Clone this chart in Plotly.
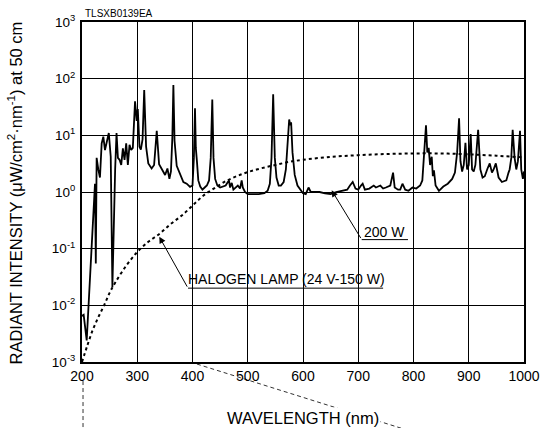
import plotly.graph_objects as go

# ---- data ----
hgxe_wl = [200, 203, 208.5, 223.5, 225, 226.5, 229.5, 232.5, 235.6, 238.6, 241.6, 244.6, 248.5, 252, 255, 260, 262.5,
           265, 268, 271, 274, 277, 280, 283, 286, 289, 292, 296, 299, 301, 304, 306.5, 309.6, 312.6, 316, 320, 326,
           330.5, 335.3, 339.5, 344.3, 350.4, 354.6, 358.2, 361, 363.5, 365.4, 367.5, 371.4, 377.5, 383.5, 389.5, 395.5,
           400, 402.5, 404.5, 406, 408, 410.5, 414, 418, 422, 426, 430, 433, 435.8, 438, 441, 445, 450, 455, 460, 464,
           466, 468, 471, 474, 478, 482, 486, 489, 491, 495, 500, 510, 520, 530, 536, 540, 543, 546, 549, 552, 556, 560,
           565, 569, 572, 575, 577, 578.5, 581, 585, 590, 595, 600, 605, 610, 614, 620, 630, 640, 650, 660, 670, 680,
           685, 690, 695, 700, 705, 708, 712, 720, 728, 732, 740, 745, 750, 758, 763, 766, 772, 776, 780, 785, 791,
           798, 805, 812, 816, 819, 822.6, 825, 827.5, 830, 833, 835, 837, 840, 846, 854, 862, 870, 875, 879, 882.5,
           885, 888, 891, 894, 897, 900, 903.5, 906, 909, 912, 917, 921, 925, 929, 934, 938, 942, 945, 949, 954, 960,
           968, 972, 974, 977, 979.5, 983, 986, 989, 992.8, 995, 998, 1000]
hgxe_val = [0.0065, 0.0068, 0.0024, 1.4, 0.055, 4.0, 2.5, 1.8, 7.2, 9.5, 5.5, 7.2, 11.0, 4.2, 0.021, 2.5, 11.0,
            4.0, 3.7, 3.0, 5.9, 3.7, 7.2, 3.0, 6.8, 5.5, 6.0, 40.0, 18.0, 29.0, 6.3, 5.6, 8.5, 63.0, 6.3, 3.2, 2.6,
            3.0, 12.0, 3.1, 2.6, 2.0, 2.6, 1.7, 2.3, 9.0, 77.0, 8.0, 2.9, 2.0, 1.5, 1.4, 1.23,
            1.3, 4.0, 30.0, 6.0, 3.5, 1.6, 1.25, 1.1, 1.2, 1.3, 1.6, 4.0, 43.0, 4.0, 1.7, 1.3, 1.2, 1.25, 1.3, 1.5,
            1.6, 1.2, 1.45, 1.1, 1.2, 1.3, 1.15, 1.6, 1.2, 1.0, 0.92, 0.92, 0.92, 0.95, 1.05, 1.4, 4.0, 53.0, 4.0, 1.8, 1.3, 1.3,
            1.5, 2.5, 8.0, 19.0, 15.0, 17.0, 5.0, 2.0, 1.3, 1.1, 0.95, 0.92, 1.2, 1.0, 1.0, 1.0, 0.95, 0.92, 1.0, 1.05, 1.1,
            1.3, 1.5, 1.15, 1.1, 1.3, 1.4, 1.1, 1.15, 1.3, 1.2, 1.3, 1.15, 1.2, 1.3, 2.2, 1.2, 1.1, 1.1, 1.4, 1.1, 1.05,
            1.2, 1.15, 1.3, 1.6, 4.0, 15.0, 5.0, 6.0, 3.0, 4.2, 1.9, 2.4, 1.3, 1.05, 1.25, 1.4, 1.7, 2.2, 5.0, 20.0,
            3.5, 2.3, 3.0, 7.4, 2.5, 3.0, 10.5, 2.5, 2.3, 3.0, 12.5, 2.5, 1.8, 1.9, 2.6, 3.2, 2.2, 2.5, 3.2, 1.8, 1.5,
            1.6, 2.2, 2.5, 4.0, 12.5, 4.0, 2.5, 3.5, 12.0, 2.5, 1.7, 2.3]

halogen_wl = [200, 210, 220, 230, 240, 250, 260, 280, 300, 320, 340, 360, 380, 400, 420, 440, 460, 480, 500,
              525, 550, 575, 600, 650, 700, 750, 800, 850, 900, 950, 1000]
halogen_val = [0.001, 0.002, 0.0038, 0.0063, 0.010, 0.0166, 0.025, 0.050, 0.087, 0.132, 0.182, 0.27, 0.38, 0.575,
               0.87, 1.17, 1.55, 1.9, 2.24, 2.63, 3.0, 3.4, 3.7, 4.17, 4.47, 4.68, 4.79, 4.79, 4.62, 4.37, 4.07]

x_ticks = [200, 300, 400, 500, 600, 700, 800, 900, 1000]
y_ticks = [1e-3, 1e-2, 1e-1, 1e0, 1e1, 1e2, 1e3]
y_ticktext = ["10<sup>-3</sup>", "10<sup>-2</sup>", "10<sup>-1</sup>", "10<sup>0</sup>",
              "10<sup>1</sup>", "10<sup>2</sup>", "10<sup>3</sup>"]

FONT = "Arial, 'Liberation Sans', Helvetica, sans-serif"

fig = go.Figure()
fig.add_trace(go.Scatter(x=halogen_wl, y=halogen_val, mode="lines", line_shape="spline",
                         line=dict(color="black", width=2, dash="3px,3px"), hoverinfo="skip"))
fig.add_trace(go.Scatter(x=hgxe_wl, y=hgxe_val, mode="lines",
                         line=dict(color="black", width=1.8), hoverinfo="skip"))

# underlines of the callout labels
fig.add_trace(go.Scatter(x=[706.2, 790], y=[0.1445, 0.1445], mode="lines",
                         line=dict(color="black", width=1), hoverinfo="skip"))
fig.add_trace(go.Scatter(x=[391.9, 745], y=[0.0201, 0.0201], mode="lines",
                         line=dict(color="black", width=1), hoverinfo="skip"))

annotations = [
    dict(x=651.9, y=0.03, ax=706.2, ay=-0.84, xref="x", yref="y", axref="x", ayref="y",
         text="", showarrow=True, arrowhead=2, arrowsize=1.3, arrowwidth=1, arrowcolor="black"),
    dict(x=339.9, y=-0.79, ax=391.9, ay=-1.697, xref="x", yref="y", axref="x", ayref="y",
         text="", showarrow=True, arrowhead=2, arrowsize=1.3, arrowwidth=1, arrowcolor="black"),
    dict(x=748, y=-0.70, xref="x", yref="y", text="200 W", showarrow=False,
         font=dict(size=14, color="black", family=FONT)),
    dict(x=570, y=-1.54, xref="x", yref="y", text="HALOGEN LAMP (24 V-150 W)", showarrow=False,
         font=dict(size=14, color="black", family=FONT)),
    dict(x=0.003, y=1.026, xref="paper", yref="paper", text="TLSXB0139EA", showarrow=False,
         xanchor="left", yanchor="middle", font=dict(size=10, color="black", family=FONT)),
    dict(x=0.499, y=-0.165, xref="paper", yref="paper", text="WAVELENGTH (nm)", showarrow=False,
         xanchor="center", yanchor="middle", bgcolor="white",
         font=dict(size=16.5, color="black", family=FONT)),
    dict(x=-0.152, y=0.498, xref="paper", yref="paper",
         text="RADIANT INTENSITY (\u03bcW/cm<sup>2</sup>\u00b7nm<sup>-1</sup>) at 50 cm",
         showarrow=False, textangle=-90, xanchor="center", yanchor="middle",
         font=dict(size=16.5, color="black", family=FONT)),
]

shapes = [
    dict(type="line", xref="paper", yref="paper", x0=0.0023, y0=-0.056, x1=0.0023, y1=-0.2,
         line=dict(color="#333", width=1, dash="4px,3px"), layer="below"),
    dict(type="line", xref="paper", yref="paper", x0=0.26, y0=-0.006, x1=0.735, y1=-0.2,
         line=dict(color="#333", width=1, dash="4px,3px"), layer="below"),
]

fig.update_layout(
    width=540, height=428,
    margin=dict(l=82, r=16, t=22, b=66, autoexpand=False),
    paper_bgcolor="white", plot_bgcolor="white",
    showlegend=False,
    font=dict(family=FONT, color="black"),
    annotations=annotations,
    shapes=shapes,
    xaxis=dict(range=[200, 1000], tickvals=x_ticks, showgrid=True, gridcolor="black", gridwidth=1.2,
               showline=True, linecolor="black", linewidth=2, mirror=True, zeroline=False,
               ticks="", automargin=False,
               tickfont=dict(size=14, color="black", family=FONT)),
    yaxis=dict(type="log", range=[-3, 3], tickvals=y_ticks, ticktext=y_ticktext,
               showgrid=True, gridcolor="black", gridwidth=1.2,
               showline=True, linecolor="black", linewidth=2, mirror=True, zeroline=False,
               ticks="outside", ticklen=2, tickcolor="rgba(0,0,0,0)", automargin=False,
               tickfont=dict(size=13.5, color="black", family=FONT)),
)

fig.write_html("out.html", config={"displayModeBar": False},
               post_script="document.body.style.margin='0';document.body.style.overflow='hidden';")
